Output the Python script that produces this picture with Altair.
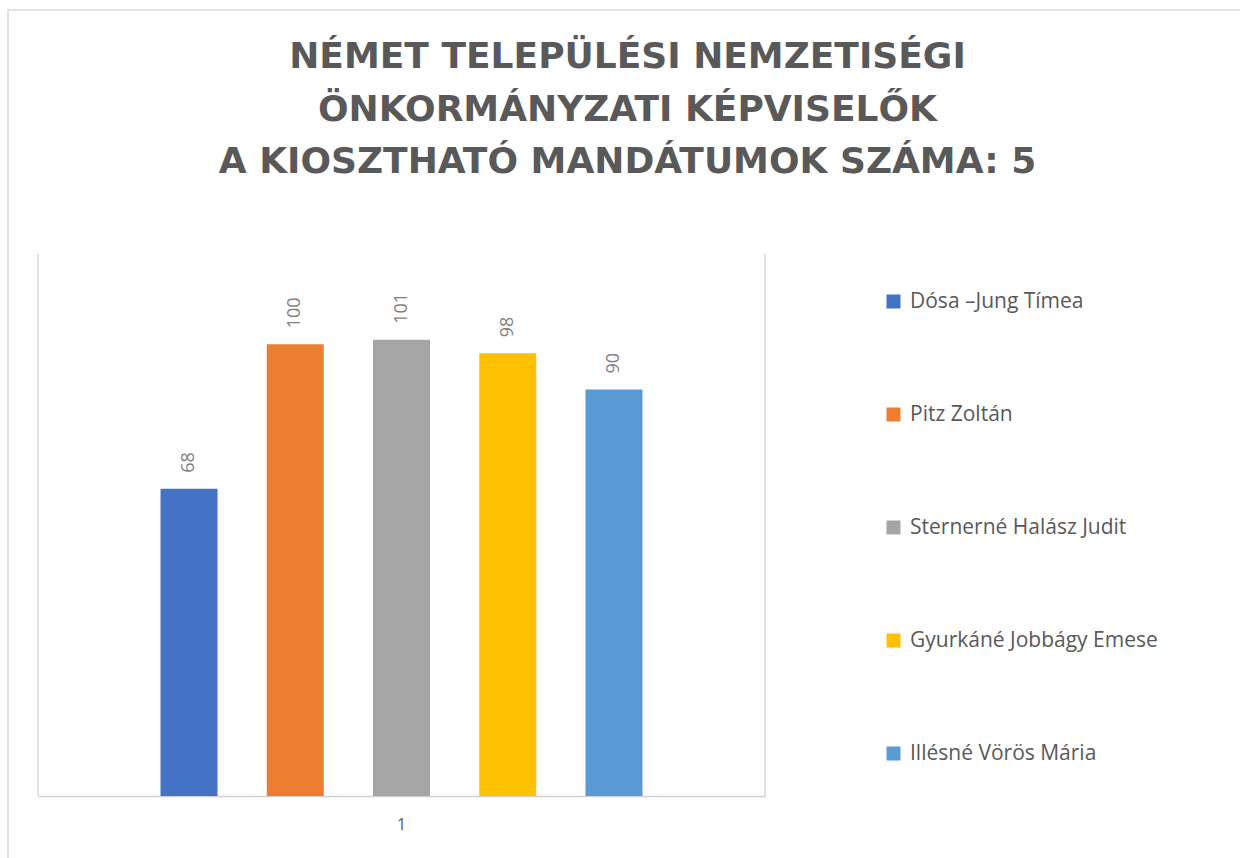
import altair as alt
import pandas as pd

# ---- data ----
names = ["Dósa –Jung Tímea", "Pitz Zoltán", "Sternerné Halász Judit",
         "Gyurkáné Jobbágy Emese", "Illésné Vörös Mária"]
votes = [68, 100, 101, 98, 90]
category = ["1"] * 5
colors = ["#4472C4", "#ED7D31", "#A5A5A5", "#FFC000", "#5B9BD5"]
title_lines = ["NÉMET TELEPÜLÉSI NEMZETISÉGI",
               "ÖNKORMÁNYZATI KÉPVISELŐK",
               "A KIOSZTHATÓ MANDÁTUMOK SZÁMA: 5"]

df = pd.DataFrame({"cat": category, "name": names, "votes": votes})

W, H = 727, 542
GRID = "#d9d9d9"

x_enc = alt.X("cat:N", title=None,
              scale=alt.Scale(paddingInner=0, paddingOuter=0.118),
              axis=alt.Axis(labelAngle=0, ticks=False, domainColor="#d0d0d0",
                            domainWidth=1.5, labelFontSize=16, labelFont="Open Sans",
                            labelColor="#595959", labelPadding=20, grid=False))
xo_enc = alt.XOffset("name:N", sort=names,
                     scale=alt.Scale(paddingInner=0.4635, paddingOuter=0.5))
y_enc = alt.Y("votes:Q", scale=alt.Scale(domain=[0, 120]), axis=None)

bars = alt.Chart(df).mark_bar().encode(
    x=x_enc, xOffset=xo_enc, y=y_enc,
    color=alt.Color("name:N", sort=names,
                    scale=alt.Scale(domain=names, range=colors),
                    legend=alt.Legend(orient="none", legendX=845, legendY=37,
                                      title=None, symbolType="square",
                                      symbolSize=196, symbolStrokeWidth=0,
                                      labelFontSize=21, labelFont="Open Sans",
                                      labelColor="#595959", labelOffset=6,
                                      rowPadding=91, labelLimit=400, padding=0)),
)

labels = alt.Chart(df).mark_text(angle=270, align="left", baseline="middle",
                                 dx=16, fontSize=18, font="Open Sans",
                                 color="#7f7f7f").encode(
    x=x_enc, xOffset=xo_enc, y=y_enc, text=alt.Text("votes:Q"))

frame_df = pd.DataFrame({"k": [0]})
left_line = alt.Chart(frame_df).mark_rule(color=GRID, strokeWidth=1.5).encode(
    x=alt.value(0), y=alt.value(0), y2=alt.value(H))
right_line = alt.Chart(frame_df).mark_rule(color=GRID, strokeWidth=1.5).encode(
    x=alt.value(W), y=alt.value(0), y2=alt.value(H))
outer = alt.Chart(frame_df).mark_rect(fill="transparent", stroke=GRID,
                                      strokeWidth=1.5).encode(
    x=alt.value(8 - 38), x2=alt.value(1240), y=alt.value(10 - 254), y2=alt.value(640))

chart = alt.layer(outer, left_line, right_line, bars, labels).properties(
    width=W, height=H,
    autosize="none",
    padding={"left": 38, "top": 254, "right": 1240 - 38 - W, "bottom": 858 - 254 - H},
    title=alt.Title(text=title_lines, anchor="middle", frame="group", dx=226,
                    offset=0, dy=172, baseline="top",
                    fontSize=36, font="DejaVu Sans", fontWeight="bold",
                    color="#595959", lineHeight=52.5),
    background="white",
).configure_view(strokeWidth=0)

chart.save("out.html", embed_options={"renderer": "svg", "actions": False})
